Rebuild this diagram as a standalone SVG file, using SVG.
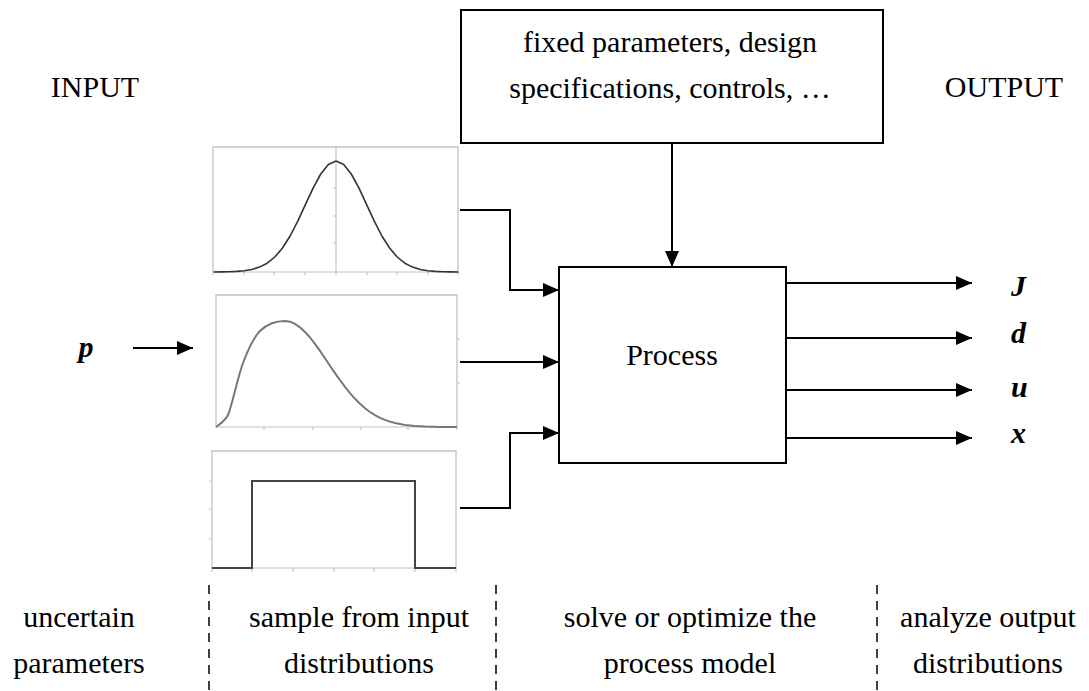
<svg xmlns="http://www.w3.org/2000/svg" width="1089" height="691" viewBox="0 0 1089 691">
<style>
.t{font-family:"Liberation Serif","Times New Roman",serif;font-size:30px;fill:#000}
.m{font-family:"Liberation Serif","Times New Roman",serif;font-size:30px;font-weight:bold;font-style:italic;fill:#000}
.box{fill:#fff;stroke:#000;stroke-width:2}
.ln{fill:none;stroke:#000;stroke-width:2}
.fr{fill:none;stroke:#c4c4c4;stroke-width:1.3}
.tk{fill:none;stroke:#c4c4c4;stroke-width:1.2}
.dash{fill:none;stroke:#000;stroke-width:1.5;stroke-dasharray:9,7}
</style>
<defs>
<marker id="ah" markerUnits="userSpaceOnUse" markerWidth="16" markerHeight="14" refX="16" refY="7" orient="auto">
<path d="M0,0 L16,7 L0,14 Z" fill="#000"/>
</marker>
</defs>
<rect width="1089" height="691" fill="#fff"/>

<g id="labels">
<text class="t" x="95" y="97" text-anchor="middle">INPUT</text>
<text class="t" x="1004" y="97" text-anchor="middle">OUTPUT</text>
</g>

<g id="fixed-params">
<rect class="box" x="461" y="10" width="422" height="133"/>
<text class="t" x="670" y="52" text-anchor="middle">fixed parameters, design</text>
<text class="t" x="670" y="98" text-anchor="middle">specifications, controls, …</text>
</g>

<g id="process">
<rect class="box" x="559" y="267" width="227" height="196"/>
<text class="t" x="672" y="365" text-anchor="middle">Process</text>
</g>

<g id="chart-normal">
<path class="fr" d="M213,272 V147 H458 V272"/>
<path class="tk" d="M213,272 H458 M213,272 v3 M244,272 v3 M274,272 v3 M305,272 v3 M336,272 v3 M367,272 v3 M397,272 v3 M428,272 v3 M458,272 v3 M336,147 V272 M333,188 h3 M333,216 h3 M333,243 h3"/>
<polyline fill="none" stroke="#333" stroke-width="1.6" stroke-linejoin="round" points="213.6,272 221.3,271.9 228.9,271.8 236.6,271.4 244.2,270.8 251.9,269.5 259.5,267.1 267.2,263.2 274.8,257 282.5,248 290.1,236 297.8,221.2 305.4,204.7 313.1,188.2 320.7,174 328.4,164.4 336,161 343.7,164.4 351.3,174 359,188.2 366.6,204.7 374.3,221.2 381.9,236 389.6,248 397.2,257 404.9,263.2 412.5,267.1 420.2,269.5 427.8,270.8 435.5,271.4 443.1,271.8 450.8,271.9 458.4,272"/>
</g>

<g id="chart-skewed">
<path class="fr" d="M216,427 V295 H457 V427"/>
<path class="tk" d="M216,427 H457 M264,427 v3 M313,427 v3 M361,427 v3 M408,427 v3 M457,427 v3 M457,339 h3 M457,383 h3"/>
<path fill="none" stroke="#777" stroke-width="2" stroke-linejoin="round" d="M216,427 C220,424 225,421 228,415 C232.5,404.3 237.7,377 243,363 C248.3,349 253,338 260,331 C267,324 276,321 285,321 L290,321.7 295,323.9 300,327.3 305,331.9 310,337.5 315,343.9 320,350.9 325,358.2 330,365.7 335,373.1 340,380.2 345,386.9 350,393.2 355,398.8 360,403.8 365,408.2 370,412 375,415.1 380,417.8 385,419.9 390,421.6 395,423 405,424.9 415,425.9 425,426.5 440,426.9 457,427"/>
</g>

<g id="chart-uniform">
<path class="fr" d="M212,568 V451 H456 V568"/>
<path class="tk" d="M212,568 H456 M212,568 v4 M252,568 v4 M293,568 v4 M334,568 v4 M374,568 v4 M415,568 v4 M456,568 v4 M209,481 h3 M209,509 h3 M209,539 h3"/>
<path fill="none" stroke="#444" stroke-width="2" d="M212,568 H252 V481 H415 V568 H456"/>
</g>

<g id="p-label">
<text class="m" x="86" y="357" text-anchor="middle">p</text>
</g>

<g id="outputs">
<text class="m" x="1011" y="296">J</text>
<text class="m" x="1011" y="343">d</text>
<text class="m" x="1011" y="397">u</text>
<text class="m" x="1011" y="443">x</text>
</g>

<g id="connectors">
<line class="ln" x1="133" y1="348" x2="193" y2="348" marker-end="url(#ah)"/>
<polyline class="ln" points="460,210 510,210 510,290 559,290" marker-end="url(#ah)"/>
<line class="ln" x1="460" y1="362" x2="559" y2="362" marker-end="url(#ah)"/>
<polyline class="ln" points="460,508 510,508 510,433 559,433" marker-end="url(#ah)"/>
<line class="ln" x1="672" y1="143" x2="672" y2="267" marker-end="url(#ah)"/>
<line class="ln" x1="786" y1="283" x2="972" y2="283" marker-end="url(#ah)"/>
<line class="ln" x1="786" y1="338" x2="972" y2="338" marker-end="url(#ah)"/>
<line class="ln" x1="786" y1="390" x2="972" y2="390" marker-end="url(#ah)"/>
<line class="ln" x1="786" y1="438" x2="972" y2="438" marker-end="url(#ah)"/>
</g>

<g id="dividers">
<line class="dash" x1="209" y1="585" x2="209" y2="691"/>
<line class="dash" x1="496" y1="585" x2="496" y2="691"/>
<line class="dash" x1="877" y1="585" x2="877" y2="691"/>
</g>

<g id="stages">
<text class="t" x="79" y="627" text-anchor="middle">uncertain</text>
<text class="t" x="79" y="673" text-anchor="middle">parameters</text>
<text class="t" x="359" y="627" text-anchor="middle">sample from input</text>
<text class="t" x="359" y="673" text-anchor="middle">distributions</text>
<text class="t" x="690" y="627" text-anchor="middle">solve or optimize the</text>
<text class="t" x="690" y="673" text-anchor="middle">process model</text>
<text class="t" x="988" y="627" text-anchor="middle">analyze output</text>
<text class="t" x="988" y="673" text-anchor="middle">distributions</text>
</g>
</svg>
